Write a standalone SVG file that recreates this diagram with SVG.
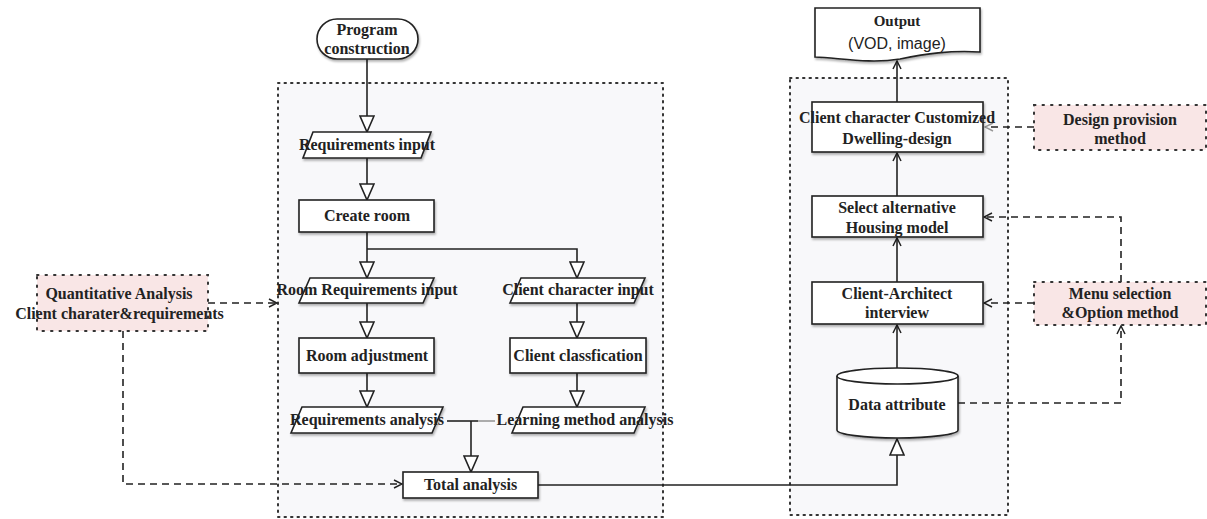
<svg xmlns="http://www.w3.org/2000/svg" width="1207" height="519" viewBox="0 0 1207 519">
<style>
text{font-family:"Liberation Serif","Times New Roman",serif;font-weight:bold;font-size:16px;fill:#222;text-anchor:middle}
.sans{font-family:"Liberation Sans",Arial,sans-serif;font-weight:normal}
.box{fill:#fff;stroke:#222;stroke-width:1.6;filter:url(#sh)}
.cont{fill:#f8f8fa;stroke:#333;stroke-width:2;stroke-dasharray:1.5 5;stroke-linecap:round}
.pink{fill:#f9e6e6;stroke:#333;stroke-width:2;stroke-dasharray:1.5 7;stroke-linecap:round}
.ln{fill:none;stroke:#222;stroke-width:1.6}
.dash{fill:none;stroke:#222;stroke-width:1.6;stroke-dasharray:7 5}
</style>
<defs>
<filter id="sh" x="-10%" y="-10%" width="120%" height="130%"><feDropShadow dx="1" dy="2" stdDeviation="1.2" flood-color="#000" flood-opacity="0.3"/></filter>
<marker id="tri" markerUnits="userSpaceOnUse" viewBox="0 0 18 16" refX="17" refY="8" markerWidth="18" markerHeight="16" orient="auto">
<path d="M1,1 L17,8 L1,15 Z" fill="#fff" stroke="#222" stroke-width="1.6"/>
</marker>
<marker id="open" markerUnits="userSpaceOnUse" viewBox="0 0 10 10" refX="9" refY="5" markerWidth="10" markerHeight="10" orient="auto">
<path d="M1,1 L9,5 L1,9" fill="none" stroke="#222" stroke-width="1.5"/>
</marker>
<marker id="opengray" markerUnits="userSpaceOnUse" viewBox="0 0 10 10" refX="9" refY="5" markerWidth="10" markerHeight="10" orient="auto">
<path d="M1,1 L9,5 L1,9" fill="none" stroke="#999" stroke-width="1.5"/>
</marker>
</defs>
<rect width="1207" height="519" fill="#fff"/>
<g id="containers">
<rect class="cont" x="278" y="83" width="385" height="434"/>
<rect class="cont" x="790" y="78" width="218" height="437"/>
</g>
<g id="connectors">
<path class="ln" d="M367,59 V132" marker-end="url(#tri)"/>
<path class="ln" d="M367,158 V200" marker-end="url(#tri)"/>
<path class="ln" d="M367,232 V278" marker-end="url(#tri)"/>
<path class="ln" d="M367,249 H577 V278" marker-end="url(#tri)"/>
<path class="ln" d="M367,303 V338" marker-end="url(#tri)"/>
<path class="ln" d="M577,303 V338" marker-end="url(#tri)"/>
<path class="ln" d="M367,373 V407" marker-end="url(#tri)"/>
<path class="ln" d="M577,373 V407" marker-end="url(#tri)"/>
<path class="ln" d="M447,421 H478"/>
<path d="M478,421 H495" fill="none" stroke="#999" stroke-width="1.6"/>
<path class="ln" d="M471,421 V472" marker-end="url(#tri)"/>
<path class="ln" d="M538,485 H897 V439" marker-end="url(#tri)"/>
<path class="ln" d="M897,368 V325" marker-end="url(#open)"/>
<path class="ln" d="M897,282 V238" marker-end="url(#open)"/>
<path class="ln" d="M897,196 V153" marker-end="url(#open)"/>
<path class="ln" d="M897,102 V61" marker-end="url(#open)"/>
<path class="dash" d="M1034,127 H985" stroke="#333" marker-end="url(#opengray)"/>
<path class="dash" d="M1034,303 H984" marker-end="url(#open)"/>
<path class="dash" d="M1121,282 V217 H984" marker-end="url(#open)"/>
<path class="dash" d="M958,403 H1121 V326" marker-end="url(#open)"/>
<path class="dash" d="M208,303 H277" marker-end="url(#open)"/>
<path class="dash" d="M123,331 V484 H402" marker-end="url(#open)"/>
</g>
<g id="program-construction">
<rect class="box" x="317" y="19" width="101" height="40" rx="20"/>
<text x="367" y="35">Program</text>
<text x="367" y="54">construction</text>
</g>
<g id="requirements-input">
<polygon class="box" points="313,132 431,132 421,158 303,158"/>
<text x="367" y="150">Requirements input</text>
</g>
<g id="create-room">
<rect class="box" x="299" y="200" width="135" height="32"/>
<text x="367" y="221">Create room</text>
</g>
<g id="room-requirements-input">
<polygon class="box" points="310,278 434,278 423,303 299,303"/>
<text x="367" y="295">Room Requirements input</text>
</g>
<g id="client-character-input">
<polygon class="box" points="521,278 645,278 634,303 510,303"/>
<text x="578" y="295">Client character input</text>
</g>
<g id="room-adjustment">
<rect class="box" x="299" y="338" width="135" height="35"/>
<text x="367" y="361">Room adjustment</text>
</g>
<g id="client-classfication">
<rect class="box" x="510" y="338" width="136" height="35"/>
<text x="578" y="361">Client classfication</text>
</g>
<g id="requirements-analysis">
<polygon class="box" points="302,407 443,407 432,433 291,433"/>
<text x="367" y="425">Requirements analysis</text>
</g>
<g id="learning-method-analysis">
<polygon class="box" points="523,407 645,407 634,433 512,433"/>
<text x="585" y="425">Learning method analysis</text>
</g>
<g id="total-analysis">
<rect class="box" x="403" y="472" width="135" height="26"/>
<text x="470.5" y="490">Total analysis</text>
</g>
<g id="quantitative-analysis">
<rect class="pink" x="37" y="275" width="171" height="56"/>
<text x="119" y="299">Quantitative Analysis</text>
<text x="119.5" y="319">Client charater&amp;requirements</text>
</g>
<g id="output">
<path class="box" d="M815,8 H980 V52 C950,50 925,54 900,59 C870,64 840,58 815,57 Z"/>
<text x="897" y="26" style="font-size:15px">Output</text>
<text class="sans" x="897" y="49">(VOD, image)</text>
</g>
<g id="client-character-customized">
<rect class="box" x="812" y="102" width="171" height="50"/>
<text x="897" y="123">Client character Customized</text>
<text x="897" y="144">Dwelling-design</text>
</g>
<g id="select-alternative">
<rect class="box" x="812" y="196" width="171" height="41"/>
<text x="897" y="213">Select alternative</text>
<text x="897" y="233">Housing model</text>
</g>
<g id="client-architect">
<rect class="box" x="812" y="282" width="171" height="42"/>
<text x="897" y="299">Client-Architect</text>
<text x="897" y="318">interview</text>
</g>
<g id="data-attribute">
<path class="box" d="M837,376 A60.5,8 0 0 1 958,376 V430 A60.5,8 0 0 1 837,430 Z"/>
<path d="M837,376 A60.5,8 0 0 0 958,376" fill="none" stroke="#222" stroke-width="1.6"/>
<text x="897" y="410">Data attribute</text>
</g>
<g id="design-provision">
<rect class="pink" x="1034" y="105" width="172" height="45"/>
<text x="1120" y="125">Design provision</text>
<text x="1120" y="144">method</text>
</g>
<g id="menu-selection">
<rect class="pink" x="1034" y="282" width="172" height="43"/>
<text x="1120" y="299">Menu selection</text>
<text x="1120" y="318">&amp;Option method</text>
</g>
</svg>
